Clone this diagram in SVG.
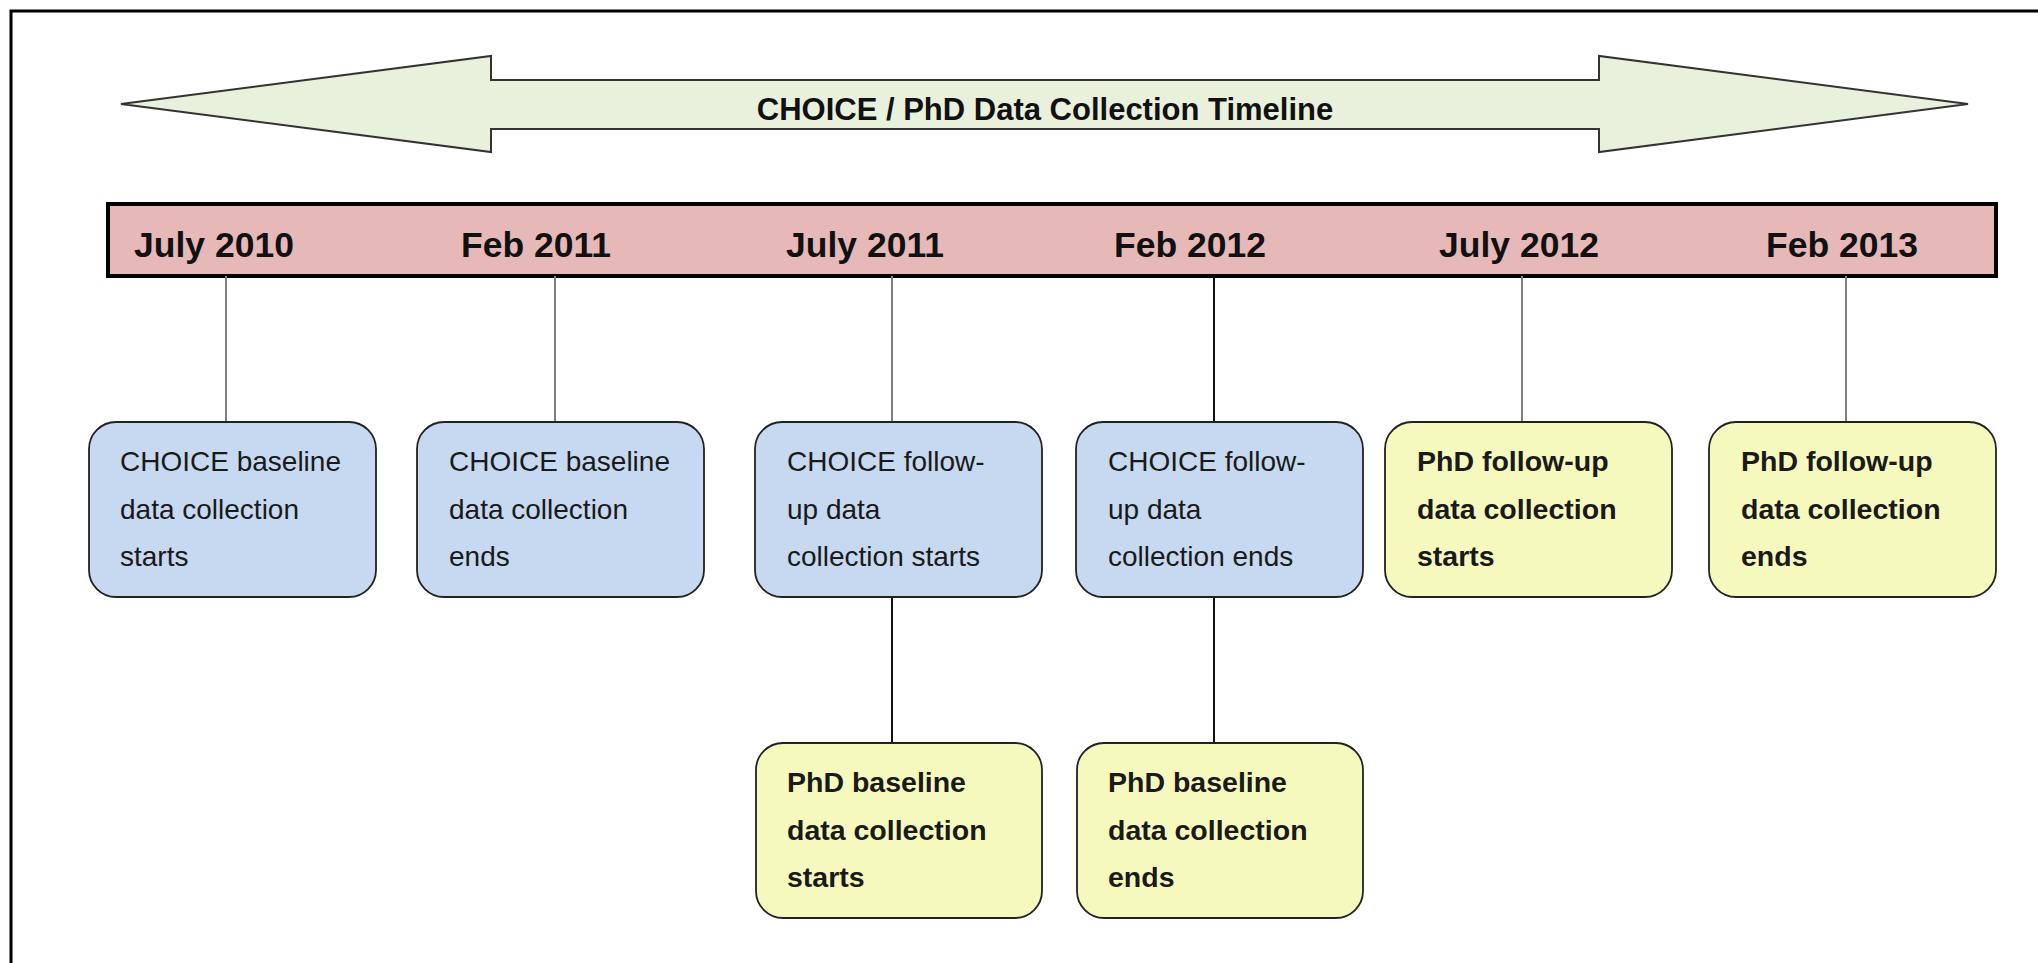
<svg xmlns="http://www.w3.org/2000/svg" width="2038" height="963" viewBox="0 0 2038 963">
  <style>
    .frame { fill: none; stroke: #000; stroke-width: 3; }
    .banner { fill: #e9f0dc; stroke: #333; stroke-width: 2; stroke-linejoin: miter; }
    .bar { fill: #e6b8b7; stroke: #000; stroke-width: 4; }
    .date { font-family: "Liberation Sans", Arial, sans-serif; font-weight: bold; font-size: 35.5px; fill: #111; }
    .title { font-family: "Liberation Sans", Arial, sans-serif; font-weight: bold; font-size: 31px; fill: #111; }
    .box { stroke: #222; stroke-width: 1.8; }
    .choice { fill: #c6d9f0; }
    .phd { fill: #f6f9bd; }
    .lbl { font-family: "Liberation Sans", Arial, sans-serif; font-size: 28px; fill: #1a1a1a; }
    .lbl.b { font-weight: bold; font-size: 28.5px; }
    .link { fill: none; stroke-width: 2; }
    .grey { stroke: #808080; }
    .dark { stroke: #111; }
  </style>

  <!-- page frame (open towards right and bottom) -->
  <rect class="frame" x="11" y="11" width="2100" height="1000"/>

  <!-- double-headed banner arrow -->
  <g id="banner">
    <polygon class="banner" points="121,104 491,56 491,80 1599,80 1599,56 1968,104 1599,152 1599,129 491,129 491,152"/>
    <text class="title" x="1045" y="120" text-anchor="middle">CHOICE / PhD Data Collection Timeline</text>
  </g>

  <!-- timeline bar with dates -->
  <g id="timeline">
    <rect class="bar" x="108" y="204" width="1888" height="72"/>
    <text class="date" x="134" y="257">July 2010</text>
    <text class="date" x="461" y="257">Feb 2011</text>
    <text class="date" x="786" y="257">July 2011</text>
    <text class="date" x="1114" y="257">Feb 2012</text>
    <text class="date" x="1439" y="257">July 2012</text>
    <text class="date" x="1766" y="257">Feb 2013</text>
  </g>

  <!-- connectors -->
  <g id="connectors">
    <line class="link grey" x1="226" y1="276" x2="226" y2="422"/>
    <line class="link grey" x1="555" y1="276" x2="555" y2="422"/>
    <line class="link grey" x1="892" y1="276" x2="892" y2="422"/>
    <line class="link dark" x1="1214" y1="276" x2="1214" y2="422"/>
    <line class="link grey" x1="1522" y1="276" x2="1522" y2="422"/>
    <line class="link grey" x1="1846" y1="276" x2="1846" y2="422"/>
    <line class="link dark" x1="892" y1="597" x2="892" y2="743"/>
    <line class="link dark" x1="1214" y1="597" x2="1214" y2="743"/>
  </g>

  <!-- event boxes -->
  <g id="choice-baseline-start">
    <rect class="box choice" x="89" y="422" width="287" height="175" rx="27"/>
    <text class="lbl" x="120"><tspan x="120" y="471">CHOICE baseline</tspan><tspan x="120" y="519">data collection</tspan><tspan x="120" y="566">starts</tspan></text>
  </g>
  <g id="choice-baseline-end">
    <rect class="box choice" x="417" y="422" width="287" height="175" rx="27"/>
    <text class="lbl" x="449"><tspan x="449" y="471">CHOICE baseline</tspan><tspan x="449" y="519">data collection</tspan><tspan x="449" y="566">ends</tspan></text>
  </g>
  <g id="choice-followup-start">
    <rect class="box choice" x="755" y="422" width="287" height="175" rx="27"/>
    <text class="lbl" x="787"><tspan x="787" y="471">CHOICE follow-</tspan><tspan x="787" y="519">up data</tspan><tspan x="787" y="566">collection starts</tspan></text>
  </g>
  <g id="choice-followup-end">
    <rect class="box choice" x="1076" y="422" width="287" height="175" rx="27"/>
    <text class="lbl" x="1108"><tspan x="1108" y="471">CHOICE follow-</tspan><tspan x="1108" y="519">up data</tspan><tspan x="1108" y="566">collection ends</tspan></text>
  </g>
  <g id="phd-followup-start">
    <rect class="box phd" x="1385" y="422" width="287" height="175" rx="27"/>
    <text class="lbl b" x="1417"><tspan x="1417" y="471">PhD follow-up</tspan><tspan x="1417" y="519">data collection</tspan><tspan x="1417" y="566">starts</tspan></text>
  </g>
  <g id="phd-followup-end">
    <rect class="box phd" x="1709" y="422" width="287" height="175" rx="27"/>
    <text class="lbl b" x="1741"><tspan x="1741" y="471">PhD follow-up</tspan><tspan x="1741" y="519">data collection</tspan><tspan x="1741" y="566">ends</tspan></text>
  </g>
  <g id="phd-baseline-start">
    <rect class="box phd" x="756" y="743" width="286" height="175" rx="27"/>
    <text class="lbl b" x="787"><tspan x="787" y="792">PhD baseline</tspan><tspan x="787" y="840">data collection</tspan><tspan x="787" y="887">starts</tspan></text>
  </g>
  <g id="phd-baseline-end">
    <rect class="box phd" x="1077" y="743" width="286" height="175" rx="27"/>
    <text class="lbl b" x="1108"><tspan x="1108" y="792">PhD baseline</tspan><tspan x="1108" y="840">data collection</tspan><tspan x="1108" y="887">ends</tspan></text>
  </g>
</svg>
